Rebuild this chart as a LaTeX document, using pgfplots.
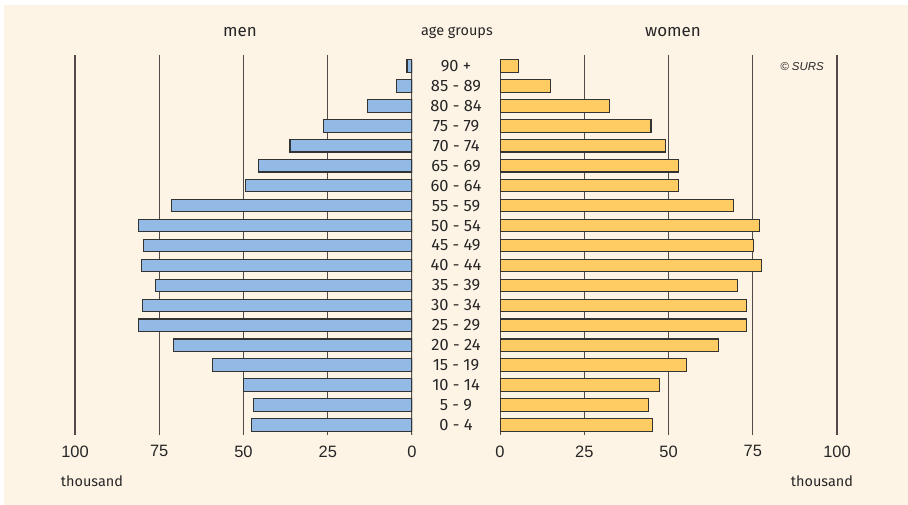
\documentclass[border=0pt]{standalone}
\usepackage{fontspec}
\setmainfont{Fira Sans}
\newfontfamily\arialf{Liberation Sans}
\usepackage{pgfplots}
\usepackage{pgfplotstable}
\pgfplotsset{compat=1.18}
\definecolor{bg}{HTML}{FDF4E6}
\definecolor{menc}{HTML}{92BAE4}
\definecolor{womc}{HTML}{FFCB63}
\definecolor{gridc}{HTML}{504B48}
\definecolor{barline}{HTML}{333333}

\pgfplotstableread{
y men women
0 47.7 45.2
1 46.9 44.0
2 49.9 47.4
3 59.2 55.4
4 70.9 64.7
5 81.1 73.1
6 80.0 73.1
7 76.0 70.4
8 80.4 77.5
9 79.6 75.3
10 81.1 76.9
11 71.4 69.4
12 49.4 53.0
13 45.6 53.0
14 36.2 49.2
15 26.2 44.8
16 13.1 32.5
17 4.7 14.9
18 1.5 5.4
}\data

\pgfplotsset{
  pyr/.style={
    scale only axis,
    width=337bp, height=380bp,
    xmin=0, xmax=100,
    ymin=-0.5, ymax=18.55,
    axis x line*=bottom, axis y line*=left,
    axis line style={draw=none},
    tick style={draw=none},
    xtick={25,50,75,100},
    extra x ticks={0},
    extra x tick style={grid=none},
    xmajorgrids,
    grid style={gridc, line width=1.1bp},
    /pgf/number format/assume math mode=true,
    xticklabel style={font=\arialf\fontsize{16.5}{18}\selectfont, text=black!85, yshift=-7bp},
    yticklabel style={font=\fontsize{16.5}{18}\selectfont, text=black!85},
    bar width=12.5bp,
  }
}

\begin{document}
\begin{tikzpicture}[x=1bp,y=1bp]
\fill[white] (0,0) rectangle (908,-505);
\fill[bg] (4,-5) rectangle (908,-505);

\begin{axis}[pyr, at={(412bp,-435bp)}, anchor=south east, x dir=reverse, ytick=\empty]
  \draw[gridc, line width=1.1bp] (axis cs:0,-0.5) -- (axis cs:0,18.2);
  \addplot[xbar, fill=menc, draw=barline, line width=1.1bp] table[x=men, y=y] {\data};
\end{axis}

\begin{axis}[pyr, at={(500bp,-435bp)}, anchor=south west,
  ytick={0,...,18},
  yticklabels={0 - 4, 5 - 9, 10 - 14, 15 - 19, 20 - 24, 25 - 29, 30 - 34, 35 - 39, 40 - 44, 45 - 49, 50 - 54, 55 - 59, 60 - 64, 65 - 69, 70 - 74, 75 - 79, 80 - 84, 85 - 89, 90 +},
  yticklabel style={anchor=center, xshift=-44bp}]
  \draw[gridc, line width=1.1bp] (axis cs:0,-0.5) -- (axis cs:0,18.2);
  \addplot[xbar, fill=womc, draw=barline, line width=1.1bp] table[x=women, y=y] {\data};
\end{axis}

\node[font=\fontsize{17}{18}\selectfont, text=black!85] at (240,-32) {men};
\node[font=\fontsize{17}{18}\selectfont, text=black!85] at (673,-32) {women};
\node[font=\fontsize{14.5}{15}\selectfont, text=black!85] at (457,-33) {age groups};
\node[font=\fontsize{14.5}{15}\selectfont, text=black!85] at (92,-481) {thousand};
\node[font=\fontsize{14.5}{15}\selectfont, text=black!85] at (822,-481) {thousand};
\node[font=\arialf\itshape\fontsize{11.5}{13}\selectfont, text=black!85] at (802,-67) {© SURS};
\end{tikzpicture}
\end{document}
